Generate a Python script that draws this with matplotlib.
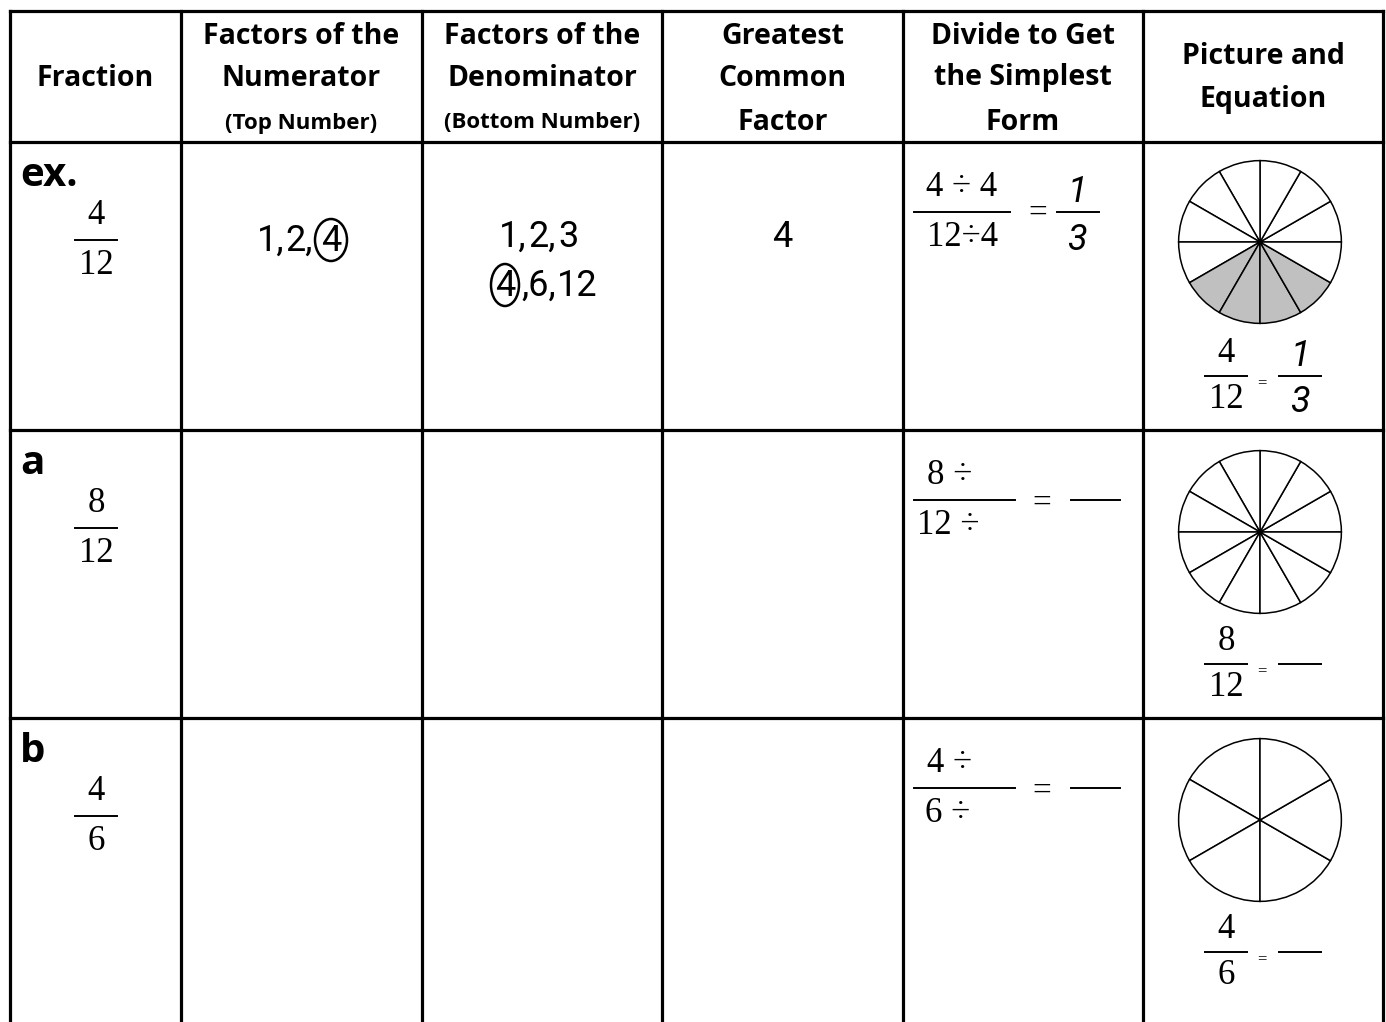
import numpy as np
import matplotlib
matplotlib.use("Agg")
import matplotlib.pyplot as plt
from matplotlib.patches import Ellipse

# Table content
headers = [
    ["Fraction"],
    ["Factors of the", "Numerator", "(Top Number)"],
    ["Factors of the", "Denominator", "(Bottom Number)"],
    ["Greatest", "Common", "Factor"],
    ["Divide to Get", "the Simplest", "Form"],
    ["Picture and", "Equation"],
]
row_labels = ["ex.", "a", "b"]
numerators = [4, 8, 4]
denominators = [12, 12, 6]
num_factors_ex = ["1,", "2,", "4"]
den_factors_ex = [["1,", "2,", "3"], ["4", ",6,", "12"]]
gcf_ex = "4"
simplest_ex = (1, 3)
shaded_ex = [7, 8, 9, 10]   # shaded slices of the example pie

# Layout (pixels)
W, H = 1386, 1022
col_x = [10, 181, 422, 662, 903, 1143, 1383]
row_y = [11, 142, 430, 718]
row_h = 288

SERIF = "Liberation Serif"
HEAD = "Open Sans"
HAND = "Roboto"

fig = plt.figure(figsize=(W / 100, H / 100), dpi=100)
ax = fig.add_axes([0, 0, 1, 1])
ax.set_xlim(0, W)
ax.set_ylim(H, 0)
ax.axis("off")

# Grid lines
for x in col_x:
    ax.plot([x, x], [row_y[0], H], color="black", lw=2.3, solid_capstyle="projecting")
for y in row_y:
    ax.plot([col_x[0], col_x[-1]], [y, y], color="black", lw=2.3, solid_capstyle="projecting")

# Header text
for i, lines in enumerate(headers):
    cx = (col_x[i] + col_x[i + 1]) / 2
    if len(lines) == 1:
        ys = [78]
    elif len(lines) == 2:
        ys = [57, 100]
    else:
        ys = [36, 78, 122]
    for j, (t, y) in enumerate(zip(lines, ys)):
        small = t.startswith("(")
        ax.text(cx, y + (1 if small else 0), t, ha="center", va="center",
                fontsize=16 if small else 20.5, fontweight="bold", family=HEAD)


def hand(x, y, t, size=26, italic=False):
    ax.text(x, y, t, ha="center", va="center", fontsize=size, family=HAND,
            fontweight="normal", style="italic" if italic else "normal")


def frac(x0, x1, y, num, den, size=25, gap=26):
    ax.plot([x0, x1], [y, y], color="black", lw=1.4)
    cx = (x0 + x1) / 2
    if num != "":
        ax.text(cx, y - gap, str(num), ha="center", va="center", fontsize=size, family=SERIF)
    if den != "":
        ax.text(cx, y + gap + 2, str(den), ha="center", va="center", fontsize=size, family=SERIF)


for r, label in enumerate(row_labels):
    top = row_y[1] + r * row_h
    ax.text(20, top + 33, label, ha="left", va="center", fontsize=29,
            fontweight="bold", family=HEAD)
    # fraction column
    frac(75, 117, top + 98, numerators[r], denominators[r], size=25, gap=24)

    # divide column
    n, d = numerators[r], denominators[r]
    if r == 0:
        frac(914, 1010, top + 70, f"{n} \u00f7 {gcf_ex}", f"{d}\u00f7{gcf_ex}", size=25, gap=24)
        ax.text(1038, top + 71, "=", ha="center", va="center", fontsize=24, family=SERIF)
        frac(1057, 1099, top + 70, "", "")
        hand(1077, top + 50, str(simplest_ex[0]), italic=True)
        hand(1077, top + 98, str(simplest_ex[1]), italic=True)
    else:
        ax.plot([914, 1015], [top + 70, top + 70], color="black", lw=1.4)
        ax.text(950, top + 45, f"{n} \u00f7", ha="center", va="center", fontsize=25, family=SERIF)
        ax.text(948, top + 95, f"{d} \u00f7", ha="center", va="center", fontsize=25, family=SERIF)
        ax.text(1042, top + 73, "=", ha="center", va="center", fontsize=24, family=SERIF)
        ax.plot([1071, 1120], [top + 70, top + 70], color="black", lw=1.4)

    # picture column: equation under the pie
    fy = top + 234
    frac(1205, 1247, fy, n, d, size=25, gap=22)
    ax.text(1262, fy + 7, "=", ha="center", va="center", fontsize=12, family=SERIF)
    if r == 0:
        frac(1279, 1321, fy, "", "")
        hand(1300, fy - 20, str(simplest_ex[0]), italic=True)
        hand(1300, fy + 26, str(simplest_ex[1]), italic=True)
    else:
        ax.plot([1279, 1321], [fy, fy], color="black", lw=1.4)

    # pie
    pcx, pcy, pr = 1260, top + 100 if r == 0 else top + 102, 83
    pax = fig.add_axes([(pcx - pr) / W, 1 - (pcy + pr) / H, 2 * pr / W, 2 * pr / H])
    nslices = denominators[r]
    colors = ["#c0c0c0" if (r == 0 and k in shaded_ex) else "white" for k in range(nslices)]
    pax.pie([1] * nslices, colors=colors, startangle=0 if nslices == 12 else 90,
            wedgeprops=dict(edgecolor="black", linewidth=1.1))
    pax.set_xlim(-1.02, 1.02)
    pax.set_ylim(-1.02, 1.02)
    pax.set_aspect("equal")
    pax.axis("off")

# Handwritten example answers
for t, x in zip(num_factors_ex, [271, 299, 331]):
    hand(x, 241, t)
ax.add_patch(Ellipse((331, 240), 32, 42, fill=False, lw=1.8, color="black"))
for t, x in zip(den_factors_ex[0], [513, 542, 569]):
    hand(x, 237, t)
for t, x in zip(den_factors_ex[1], [505, 539, 577]):
    hand(x, 286, t)
ax.add_patch(Ellipse((505, 285), 28, 42, fill=False, lw=1.8, color="black"))
hand(782, 237, gcf_ex)

fig.savefig("out.png", dpi=100)
